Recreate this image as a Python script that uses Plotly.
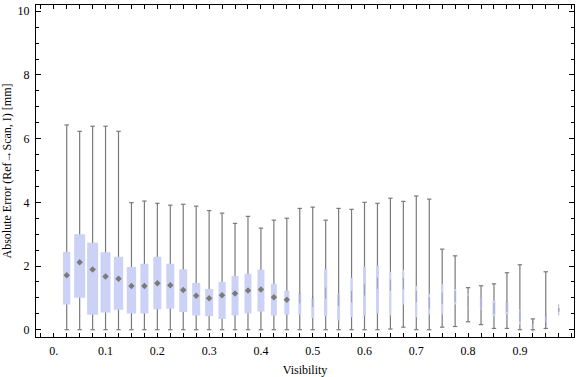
import plotly.graph_objects as go

# Visibility bin centres (bin width 0.025)
visibility = [round(0.025 * (i + 1), 3) for i in range(39)]

# Box statistics (Absolute Error in mm)
err_min = [0, 0, 0, 0, 0, 0, 0, 0, 0, 0, 0, 0, 0, 0, 0, 0, 0, 0, 0, 0,
           0, 0, 0, 0, 0, 0.02, 0.08, 0, 0, 0.08, 0.10, 0.25, 0.16, 0.04, 0.04, 0, 0, 0.04, 0.57]
err_q1 = [0.79, 1.00, 0.47, 0.54, 0.63, 0.51, 0.51, 0.64, 0.66, 0.56, 0.45, 0.42, 0.34, 0.45, 0.51,
          0.57, 0.45, 0.48, 0.48, 0.37, 0.42, 0.29, 0.39, 0.45, 0.51, 0.45, 0.79, 0.39, 0.48, 0.48,
          0.79, 0.70, 0.64, 0.42, 0.48, 0.17, 0.02, 0.23, 0.57]
err_median = [1.71, 2.12, 1.89, 1.67, 1.60, 1.37, 1.37, 1.46, 1.40, 1.25, 1.07, 0.99, 1.08, 1.14, 1.23,
              1.26, 1.02, 0.94, 1.00, 0.89, 1.15, 0.92, 1.04, 1.25, 1.46, 1.40, 1.45, 1.04, 0.84, 0.99,
              1.04, 0.89, 0.84, 0.67, 0.73, 0.42, 0.10, 0.31, 0.62]
err_q3 = [2.45, 3.00, 2.73, 2.43, 2.29, 1.97, 2.07, 2.29, 2.07, 1.90, 1.47, 1.28, 1.50, 1.69, 1.76,
          1.88, 1.44, 1.22, 1.13, 0.98, 1.90, 1.13, 1.63, 1.98, 2.01, 1.82, 1.88, 1.38, 1.13, 1.43,
          1.28, 1.13, 1.01, 0.91, 0.88, 0.63, 0.19, 0.44, 0.68]
err_max = [6.43, 6.23, 6.39, 6.39, 6.23, 3.99, 4.04, 3.97, 3.91, 3.94, 3.88, 3.74, 3.66, 3.34, 3.56,
           3.19, 3.44, 3.50, 3.81, 3.85, 3.44, 3.81, 3.78, 4.00, 3.97, 4.13, 4.03, 4.20, 4.10, 2.53,
           2.32, 1.32, 1.38, 1.44, 1.79, 2.04, 0.34, 1.82, 0.68]
# Relative box width (fraction of the bin width)
rel_width = [0.56, 0.85, 0.85, 0.77, 0.72, 0.72, 0.62, 0.62, 0.62, 0.62, 0.62, 0.62, 0.56, 0.54, 0.54,
             0.54, 0.46, 0.39, 0.23, 0.23, 0.25, 0.23, 0.19, 0.23, 0.23, 0.15, 0.15, 0.15, 0.15, 0.18,
             0.18, 0.08, 0.18, 0.23, 0.23, 0.15, 0.18, 0.15, 0.13]

tick_vals = [0.0, 0.1, 0.2, 0.3, 0.4, 0.5, 0.6, 0.7, 0.8, 0.9]
tick_text = ["0.", "0.1", "0.2", "0.3", "0.4", "0.5", "0.6", "0.7", "0.8", "0.9"]

BIN = 0.025
PX_PER_UNIT = 517.9
GRAY = "#7a7a7a"
BOXFILL = "rgb(204,210,245)"
FONT = "Liberation Serif"

# whiskers
wx, wy = [], []
for x, lo, hi in zip(visibility, err_min, err_max):
    wx += [x, x, None]
    wy += [lo, hi, None]

# caps (only where a whisker exists)
cap_half = 2.2 / PX_PER_UNIT
cx, cy = [], []
for x, lo, q1, q3, hi in zip(visibility, err_min, err_q1, err_q3, err_max):
    if q1 - lo > 0.01:
        cx += [x - cap_half, x + cap_half, None]
        cy += [lo, lo, None]
    if hi - q3 > 0.01:
        cx += [x - cap_half, x + cap_half, None]
        cy += [hi, hi, None]

# boxes
bx, by = [], []
for x, q1, q3, w in zip(visibility, err_q1, err_q3, rel_width):
    h = w * BIN / 2
    bx += [x - h, x + h, x + h, x - h, x - h, None]
    by += [q1, q1, q3, q3, q1, None]

fig = go.Figure()
fig.add_trace(go.Scatter(x=wx, y=wy, mode="lines", line=dict(color=GRAY, width=1.2),
                         hoverinfo="skip", showlegend=False))
fig.add_trace(go.Scatter(x=cx, y=cy, mode="lines", line=dict(color=GRAY, width=1.2),
                         hoverinfo="skip", showlegend=False))
fig.add_trace(go.Scatter(x=bx, y=by, mode="lines", fill="toself", fillcolor=BOXFILL,
                         line=dict(width=0, color=BOXFILL), hoverinfo="skip", showlegend=False))

wide = [i for i, w in enumerate(rel_width) if w >= 0.38]
thin = [i for i, w in enumerate(rel_width) if w < 0.38]
fig.add_trace(go.Scatter(x=[visibility[i] for i in wide], y=[err_median[i] for i in wide],
                         mode="markers",
                         marker=dict(symbol="diamond", size=5, color="#7a7a7a", line=dict(width=0)),
                         showlegend=False))
fig.add_trace(go.Scatter(x=[visibility[i] for i in thin], y=[err_median[i] for i in thin],
                         mode="markers",
                         marker=dict(symbol="line-ns", size=8,
                                     line=dict(width=1, color="rgba(110,110,130,0.5)")),
                         showlegend=False))

fig.update_layout(
    width=576, height=377,
    margin=dict(l=36, r=2, t=5, b=40),
    paper_bgcolor="white", plot_bgcolor="white",
    font=dict(family=FONT, size=12, color="black"),
    showlegend=False,
)
fig.update_xaxes(
    range=[-0.0343, 1.0045], showgrid=False, zeroline=False,
    showline=True, linecolor="black", linewidth=1, mirror="ticks",
    ticks="inside", ticklen=4, tickcolor="black", tickwidth=1,
    tickmode="array", tickvals=tick_vals, ticktext=tick_text,
    minor=dict(ticks="inside", ticklen=4, dtick=0.025, tick0=0, tickcolor="black", showgrid=False),
    tickfont=dict(family=FONT, size=12), ticklabelstandoff=3,
    title=dict(text="Visibility", font=dict(family=FONT, size=12), standoff=8),
)
fig.update_yaxes(
    range=[-0.229, 10.197], showgrid=False, zeroline=False,
    showline=True, linecolor="black", linewidth=1, mirror="ticks",
    ticks="inside", ticklen=5, tickcolor="black", tickwidth=1,
    tickmode="array", tickvals=[0, 2, 4, 6, 8, 10],
    minor=dict(ticks="inside", ticklen=3, dtick=0.5, tick0=0, tickcolor="black", showgrid=False),
    tickfont=dict(family=FONT, size=12), ticklabelstandoff=3,
    title=dict(text="Absolute Error (Ref→Scan, I) [mm]", font=dict(family=FONT, size=12), standoff=6),
)

fig.write_html("out.html", config={"displayModeBar": False},
               post_script="document.body.style.margin='0';")
